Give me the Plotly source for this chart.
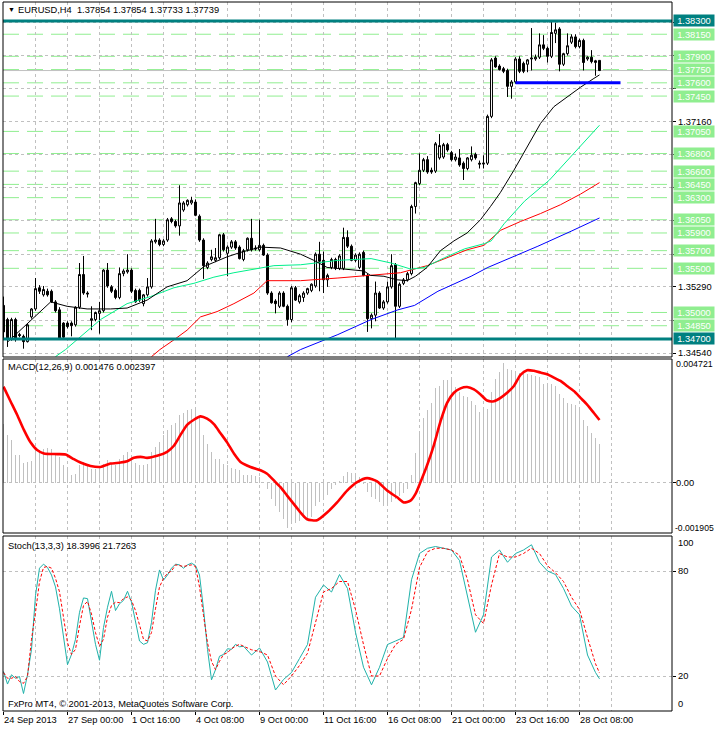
import plotly.graph_objects as go

# ------------------------------------------------------------------ data
bars = list(range(150))
opens = [1.3508,1.3492,1.3470,1.3492,1.3475,1.3473,1.3467,1.3495,1.3504,1.3528,
         1.3520,1.3524,1.3524,1.3512,1.3503,1.3488,1.3488,1.3488,1.3486,1.3506,
         1.3543,1.3522,1.3491,1.3492,1.3499,1.3502,1.3548,1.3529,1.3525,1.3517,
         1.3544,1.3546,1.3548,1.3525,1.3525,1.3510,1.3520,1.3529,1.3580,1.3582,
         1.3577,1.3582,1.3606,1.3603,1.3598,1.3616,1.3622,1.3624,1.3625,1.3609,
         1.3582,1.3551,1.3560,1.3559,1.3562,1.3588,1.3567,1.3574,1.3580,1.3574,
         1.3560,1.3571,1.3584,1.3573,1.3571,1.3576,1.3565,1.3522,1.3513,1.3507,
         1.3522,1.3507,1.3492,1.3528,1.3512,1.3517,1.3522,1.3525,1.3530,1.3566,
         1.3559,1.3537,1.3551,1.3560,1.3550,1.3550,1.3585,1.3575,1.3559,1.3551,
         1.3568,1.3542,1.3493,1.3497,1.3522,1.3505,1.3512,1.3529,1.3554,1.3507,
         1.3533,1.3537,1.3544,1.3620,1.3646,1.3661,1.3673,1.3661,1.3660,1.3675,
         1.3676,1.3690,1.3681,1.3673,1.3675,1.3669,1.3663,1.3673,1.3679,1.3669,
         1.3668,1.3669,1.3722,1.3788,1.3779,1.3776,1.3774,1.3756,1.3761,1.3787,
         1.3782,1.3781,1.3787,1.3787,1.3789,1.3803,1.3799,1.3790,1.3816,1.3821,
         1.3781,1.3793,1.3806,1.3812,1.3801,1.3808,1.3787,1.3789,1.3783,1.37854]
highs = [1.3518,1.3494,1.3494,1.3494,1.3477,1.3475,1.3487,1.3505,1.3539,1.3531,
         1.3530,1.3527,1.3526,1.3514,1.3506,1.3489,1.3490,1.3490,1.3507,1.3556,
         1.3564,1.3524,1.3507,1.3501,1.3512,1.3549,1.3556,1.3531,1.3527,1.3551,
         1.3549,1.3566,1.3550,1.3527,1.3527,1.3521,1.3539,1.3583,1.3606,1.3584,
         1.3583,1.3607,1.3608,1.3605,1.3644,1.3626,1.3628,1.3631,1.3628,1.3611,
         1.3584,1.3558,1.3571,1.3573,1.3589,1.3590,1.3576,1.3582,1.3582,1.3576,
         1.3572,1.3585,1.3606,1.3576,1.3605,1.3578,1.3567,1.3524,1.3515,1.3524,
         1.3524,1.3509,1.3530,1.3530,1.3521,1.3524,1.3528,1.3533,1.3568,1.3580,
         1.3569,1.3544,1.3562,1.3562,1.3566,1.3596,1.3593,1.3577,1.3567,1.3568,
         1.3570,1.3544,1.3499,1.3535,1.3524,1.3514,1.3535,1.3566,1.3556,1.3534,
         1.3539,1.3546,1.3622,1.3648,1.3680,1.3675,1.3677,1.3664,1.3693,1.3702,
         1.3692,1.3692,1.3683,1.3680,1.3685,1.3671,1.3676,1.3688,1.3681,1.3672,
         1.3678,1.3724,1.3788,1.3790,1.3781,1.3778,1.3776,1.3763,1.3789,1.3790,
         1.3784,1.3787,1.3822,1.3792,1.3816,1.3814,1.3801,1.3830,1.3828,1.3823,
         1.3794,1.3816,1.3815,1.3815,1.3810,1.3810,1.3790,1.3797,1.3786,1.37854]
lows = [1.3469,1.3461,1.3468,1.3467,1.3472,1.3459,1.3466,1.3493,1.3502,1.3521,
        1.3518,1.3518,1.3511,1.3500,1.3469,1.3470,1.3482,1.3473,1.3484,1.3504,
        1.3520,1.3517,1.3480,1.3490,1.3476,1.3500,1.3528,1.3522,1.3515,1.3515,
        1.3541,1.3544,1.3522,1.3511,1.3512,1.3507,1.3518,1.3527,1.3578,1.3575,
        1.3575,1.3580,1.3601,1.3596,1.3587,1.3614,1.3620,1.3622,1.3609,1.3580,
        1.3538,1.3549,1.3558,1.3557,1.3560,1.3569,1.3541,1.3572,1.3571,1.3560,
        1.3558,1.3569,1.3569,1.3570,1.3569,1.3564,1.3520,1.3510,1.3499,1.3505,
        1.3506,1.3485,1.3489,1.3513,1.3510,1.3512,1.3520,1.3523,1.3528,1.3524,
        1.3522,1.3529,1.3549,1.3548,1.3548,1.3548,1.3573,1.3558,1.3557,1.3549,
        1.3541,1.3478,1.3482,1.3490,1.3504,1.3503,1.3510,1.3527,1.3471,1.3505,
        1.3531,1.3535,1.3542,1.3612,1.3644,1.3659,1.3657,1.3657,1.3658,1.3673,
        1.3674,1.3682,1.3671,1.3671,1.3665,1.3650,1.3661,1.3671,1.3673,1.3663,
        1.3663,1.3667,1.3720,1.3777,1.3774,1.3771,1.3744,1.3742,1.3759,1.3771,
        1.3771,1.3772,1.3774,1.3785,1.3787,1.3797,1.3783,1.3788,1.3805,1.3773,
        1.3779,1.3791,1.3804,1.3799,1.3799,1.3774,1.3785,1.3782,1.3768,1.37733]
closes = [1.3478,1.3471,1.3492,1.3470,1.3474,1.3467,1.3486,1.3504,1.3527,1.3524,
          1.3526,1.3520,1.3512,1.3502,1.3471,1.3472,1.3484,1.3485,1.3506,1.3543,
          1.3522,1.3521,1.3493,1.3500,1.3502,1.3548,1.3530,1.3524,1.3517,1.3544,
          1.3547,1.3548,1.3524,1.3512,1.3514,1.3520,1.3529,1.3581,1.3582,1.3577,
          1.3581,1.3605,1.3603,1.3598,1.3624,1.3624,1.3627,1.3627,1.3610,1.3582,
          1.3553,1.3556,1.3563,1.3562,1.3588,1.3571,1.3574,1.3580,1.3573,1.3561,
          1.3570,1.3584,1.3571,1.3572,1.3576,1.3565,1.3522,1.3511,1.3510,1.3522,
          1.3507,1.3492,1.3528,1.3514,1.3519,1.3522,1.3527,1.3532,1.3566,1.3558,
          1.3537,1.3542,1.3560,1.3550,1.3564,1.3585,1.3575,1.3559,1.3565,1.3566,
          1.3542,1.3493,1.3497,1.3522,1.3505,1.3512,1.3529,1.3553,1.3507,1.3532,
          1.3537,1.3544,1.3620,1.3647,1.3661,1.3673,1.3659,1.3659,1.3691,1.3689,
          1.3690,1.3684,1.3673,1.3676,1.3667,1.3663,1.3675,1.3678,1.3675,1.3668,
          1.3669,1.3722,1.3786,1.3778,1.3775,1.3773,1.3756,1.3761,1.3787,1.3773,
          1.3773,1.3786,1.3788,1.3789,1.3803,1.3799,1.3790,1.3817,1.3820,1.3781,
          1.3793,1.3802,1.3812,1.3801,1.3808,1.3783,1.3789,1.3784,1.3785,1.37739]

# moving averages (bar position, price)
ma_black_x = [0.9,11.8,15.9,20.9,26.75,30.9,35.9,40.9,45.9,50.1,55.9,59.25,64.25,69.25,74.25,77.6,80.9,
              85.9,90.1,91.75,95.1,98.4,100.9,103,105.9,109.25,112.6,115.9,119.25,121.75,124.25,127.6,
              131,134.25,137.6,140.9,144.25,147.6,149]
ma_black_y = [1.3466,1.3512,1.3507,1.3504,1.3504,1.3505,1.3514,1.3529,1.3536,1.3552,1.3563,1.3568,1.3574,
              1.3573,1.3566,1.3559,1.3551,1.3549,1.3547,1.3542,1.3541,1.3537,1.3536,1.3541,1.3551,1.3570,
              1.3581,1.3590,1.3605,1.3620,1.3636,1.3661,1.3688,1.3714,1.3733,1.3744,1.3755,1.3765,1.3769]
ma_green_x = [13,15.5,24.25,30.9,36.75,42.6,47.6,52.6,57.6,62.6,67.6,74.25,83.6,91.9,96.9,101.9,105.25,
              110.25,115.25,120.25,121.9,125.25,130.25,136.5,149]
ma_green_y = [1.3450,1.3458,1.3492,1.3510,1.3518,1.3528,1.3533,1.3540,1.3545,1.3549,1.3553,1.3554,1.3559,
              1.3561,1.3556,1.3549,1.3551,1.3562,1.3572,1.3578,1.3581,1.3601,1.3626,1.3650,1.3712]
ma_red_x = [37,39.1,42.6,45.9,49.25,53.4,57.6,62.6,65.9,70.9,74.25,83.6,91.9,99.25,105.9,110.9,115.9,
            120.1,124.25,129.25,134.25,139.25,144.25,149]
ma_red_y = [1.3450,1.3458,1.3469,1.3480,1.3495,1.3501,1.3510,1.3522,1.3536,1.3536,1.3536,1.3539,1.3542,
            1.3545,1.3553,1.3562,1.3571,1.3576,1.3593,1.3603,1.3612,1.3622,1.3634,1.3647]
ma_blue_x = [71,74.25,83.6,91.9,98.6,102.75,108.6,116.9,121.1,125.25,133.6,141.9,149]
ma_blue_y = [1.3450,1.3458,1.3475,1.3492,1.3503,1.3508,1.3524,1.3541,1.3551,1.3559,1.3575,1.3592,1.3607]

# horizontal levels
green_levels = [1.3815,1.3790,1.3775,1.3760,1.3745,1.3705,1.3680,1.3660,1.3645,1.3630,
                1.3605,1.3590,1.3570,1.3550,1.3500,1.3485]
green_labels = ["1.38150","1.37900","1.37750","1.37600","1.37450","1.37050","1.36800","1.36600",
                "1.36450","1.36300","1.36050","1.35900","1.35700","1.35500","1.35000","1.34850"]
teal_levels = [1.3830, 1.3470]
teal_labels = ["1.38300", "1.34700"]
blue_level = 1.3760
blue_from_bar, blue_to_bar = 128, 154.25
bid_price = 1.37739
price_grid = [1.34540,1.34914,1.35290,1.35662,1.36036,1.36410,1.36784,1.37160,1.37532,1.37906,1.38280]
price_tick_labels = {1.37160: "1.37160", 1.35290: "1.35290", 1.34540: "1.34540"}

# MACD
macd_main = [0.002253,0.001830,0.001637,0.001059,0.001059,0.000777,0.000803,0.000828,0.001188,0.001252,
             0.001290,0.001316,0.001290,0.001059,0.000995,0.000700,0.000482,0.000315,0.000341,0.000700,
             0.000803,0.000674,0.000546,0.000546,0.000546,0.000738,0.000867,0.000777,0.000700,0.000931,
             0.001059,0.001188,0.000995,0.000777,0.000674,0.000674,0.000738,0.001188,0.001380,0.001547,
             0.001830,0.002022,0.002215,0.002279,0.002600,0.002664,0.002793,0.002831,0.002831,0.002471,
             0.001830,0.001470,0.001188,0.000905,0.000905,0.000738,0.000674,0.000572,0.000546,0.000482,
             0.000315,0.000315,0.000289,0.000263,0.000225,0.000010,-0.000225,-0.000610,-0.000867,-0.001124,
             -0.001355,-0.001700,-0.001573,-0.001509,-0.001445,-0.001316,-0.001380,-0.001278,-0.000867,-0.000738,
             -0.000610,-0.000456,-0.000225,-0.000071,0.000058,0.000263,0.000417,0.000392,0.000392,0.000225,
             -0.000032,-0.000353,-0.000546,-0.000610,-0.000738,-0.000867,-0.000892,-0.000738,-0.000610,-0.000482,
             -0.000379,-0.000225,0.000289,0.001124,0.001855,0.002472,0.002793,0.003049,0.003627,0.003692,
             0.003910,0.003910,0.003910,0.003653,0.003473,0.003306,0.003268,0.003114,0.002985,0.002703,
             0.002857,0.002831,0.003473,0.003948,0.004244,0.004550,0.004334,0.004295,0.004244,0.004205,
             0.004141,0.004167,0.004115,0.004077,0.004038,0.003756,0.003730,0.003756,0.003692,0.003396,
             0.003242,0.003049,0.003011,0.002960,0.002831,0.002408,0.002151,0.001894,0.001727,0.001476]
macd_sig_x = [0,1.75,3.4,5.1,6.75,8.4,10.1,13.4,15.5,17.6,19.25,21.75,24.25,26.75,29.25,30.9,32.6,34.25,
              35.9,38.4,40.9,42.6,44.25,45.9,47.6,49.25,50.9,52.6,54.25,55.9,57.6,59.25,61.75,64.25,65.9,
              67.6,69.25,70.9,72.6,74.25,75.9,78.4,80.9,83.4,85.9,88.4,90.9,93.4,95.9,98.4,100.1,101.75,
              103,104.25,105.9,107.6,109.25,110.9,112.6,114.25,115.9,117.6,119.25,120.9,122.6,124.25,
              125.9,127.6,129.25,130.9,132.6,134.25,135.9,137.6,139.25,140.9,142.6,144.25,145.9,147.6,149]
macd_sig_y = [0.003667,0.003114,0.002600,0.002022,0.001547,0.001252,0.001123,0.001098,0.001085,0.000905,
              0.000777,0.000648,0.000610,0.000738,0.000777,0.000828,0.000957,0.000995,0.000957,0.001034,
              0.001188,0.001419,0.001830,0.002215,0.002408,0.002536,0.002446,0.002241,0.001894,0.001547,
              0.001123,0.000803,0.000610,0.000482,0.000353,0.000096,-0.000161,-0.000482,-0.000803,-0.001124,
              -0.001381,-0.001419,-0.001124,-0.000739,-0.000289,0.000032,0.000186,0.000058,-0.000289,-0.000546,
              -0.000739,-0.000675,-0.000417,0.000032,0.000674,0.001444,0.002343,0.003049,0.003435,0.003602,
              0.003653,0.003563,0.003370,0.003139,0.003114,0.003242,0.003435,0.003692,0.004116,0.004295,
              0.004270,0.004206,0.004141,0.004013,0.003885,0.003692,0.003499,0.003242,0.002985,0.002664,0.002397]

# Stochastic
stoch_main_x = list(range(60)) + [60,62,64,66,68,70,72,74,76,78,80,82,84,86,88,90,92,94,96,98,100,102,104,
                                  106,108,110,112,114,116,118,120,122,124,126,128,130,132,134,136,138,140,
                                  142,144,146,148,149]
stoch_main_y = [22.6,15.4,20.7,18.7,19.7,10.0,20.7,35.2,66.1,81.6,83.9,82.0,77.7,70.9,58.4,41.0,26.5,32.3,
                41.0,56.4,64.6,64.2,50.6,38.1,29.0,47.7,59.3,68.4,57.4,61.3,63.2,68.4,62.2,51.6,40.0,38.1,
                39.0,50.6,69.0,80.6,74.8,77.7,81.6,83.9,83.5,81.6,83.5,84.5,83.1,77.7,58.4,35.2,17.8,23.6,
                31.3,32.3,35.6,35.2,38.1,36.7,
                37,32,36,28,12,18,22,30,38,65,72,68,78,70,45,25,15,25,38,40,42,75,90,93,94,93,92,86,65,45,
                55,88,92,85,90,92,95,85,80,78,70,60,55,32,22,18.3996]
stoch_sig_x = stoch_main_x
stoch_sig_y = [22.0,18.7,18.7,19.7,16.8,15.8,19.7,41.0,56.4,73.8,82.0,82.6,81.6,75.8,68.1,53.6,39.0,32.3,
               35.2,48.7,60.3,62.6,55.4,44.8,37.0,41.0,53.6,60.3,62.2,61.9,64.2,65.2,63.2,57.4,48.7,41.0,
               40.0,44.8,58.4,70.9,75.8,78.7,80.0,83.5,83.1,82.6,83.1,83.5,82.6,70.9,54.6,39.0,28.4,23.6,
               28.4,32.3,33.3,35.6,37.0,38.1,
               37,35,34,32,20,15,20,26,33,50,68,70,74,74,58,38,20,20,30,38,41,58,82,91,93,93,92,89,75,55,
               50,72,90,88,88,90,93,90,83,79,74,65,58,42,27,21.7263]

date_bars = [0,16,32,48,64,80,96,112,128,144]
date_labels = ["24 Sep 2013","27 Sep 00:00","1 Oct 16:00","4 Oct 08:00","9 Oct 00:00",
               "11 Oct 16:00","16 Oct 08:00","21 Oct 00:00","23 Oct 16:00","28 Oct 08:00"]

# ------------------------------------------------------------------ layout helpers
W, H = 715, 729
ML, MR, MT, MB = 3, 43, 2, 18
PH = H - MT - MB
def py(y):
    return (H - MB - y) / PH

FONT = "Liberation Sans"
FS = 9.3
GRID = "#c0c0c0"
GREEN = "#90ee90"
TEAL = "#008080"

fig = go.Figure()

fig.add_trace(go.Candlestick(
    x=bars, open=opens, high=highs, low=lows, close=closes,
    increasing=dict(line=dict(color="black", width=1), fillcolor="white"),
    decreasing=dict(line=dict(color="black", width=1), fillcolor="black"),
    whiskerwidth=0, xaxis="x", yaxis="y", hoverinfo="skip", showlegend=False))

for xs, ys, col in [(ma_blue_x, ma_blue_y, "#0000ff"), (ma_red_x, ma_red_y, "#ff0000"),
                    (ma_green_x, ma_green_y, "#00f08c"), (ma_black_x, ma_black_y, "black")]:
    fig.add_trace(go.Scatter(x=xs, y=ys, mode="lines", line=dict(color=col, width=1),
                             xaxis="x", yaxis="y", hoverinfo="skip", showlegend=False))

fig.add_trace(go.Bar(x=bars, y=macd_main, width=0.25, marker=dict(color="#c0c0c0", line=dict(width=0)),
                     xaxis="x", yaxis="y2", hoverinfo="skip", showlegend=False))
fig.add_trace(go.Scatter(x=macd_sig_x, y=macd_sig_y, mode="lines", line=dict(color="red", width=2.6, shape="spline", smoothing=0.6),
                         xaxis="x", yaxis="y2", hoverinfo="skip", showlegend=False))

fig.add_trace(go.Scatter(x=stoch_main_x, y=stoch_main_y, mode="lines", line=dict(color="#20b2aa", width=1),
                         xaxis="x", yaxis="y3", hoverinfo="skip", showlegend=False))
fig.add_trace(go.Scatter(x=stoch_sig_x, y=stoch_sig_y, mode="lines", line=dict(color="red", width=1, dash="3px,2px"),
                         xaxis="x", yaxis="y3", hoverinfo="skip", showlegend=False))

shapes = []
for lv in green_levels:
    shapes.append(dict(type="line", xref="paper", x0=0, x1=1, yref="y", y0=lv, y1=lv,
                       line=dict(color=GREEN, width=1, dash="16px,8px"), layer="between"))
shapes.append(dict(type="line", xref="paper", x0=0, x1=1, yref="y", y0=bid_price, y1=bid_price,
                   line=dict(color="#c0c0c0", width=1), layer="between"))
for lv in teal_levels:
    shapes.append(dict(type="line", xref="paper", x0=0, x1=1, yref="y", y0=lv, y1=lv,
                       line=dict(color=TEAL, width=3), layer="above"))
shapes.append(dict(type="line", xref="x", x0=blue_from_bar, x1=blue_to_bar, yref="y", y0=blue_level, y1=blue_level,
                   line=dict(color="#0000ff", width=3), layer="above"))
# panel frames
for y0, y1 in [(357, 2), (533, 359), (711, 536)]:
    shapes.append(dict(type="rect", xref="paper", yref="paper", x0=0, x1=1, y0=py(y0), y1=py(y1),
                       line=dict(color="black", width=1), fillcolor="rgba(0,0,0,0)", layer="above"))

ann = []
def right_label(text, y, yref, bg=None, color="black", size=FS, shift=5):
    d = dict(x=1, xref="paper", xanchor="left", xshift=shift, y=y, yref=yref, yanchor="middle",
             text=text, showarrow=False, font=dict(family=FONT, size=size, color=color),
             align="left", borderpad=0)
    if bg:
        d.update(bgcolor=bg, width=40, height=11, align="center", xshift=1)
    return d

for lv, t in zip(green_levels, green_labels):
    ann.append(right_label(t, lv, "y", GREEN, "white"))
for lv, t in zip(teal_levels, teal_labels):
    ann.append(right_label(t, lv, "y", TEAL, "white"))
for lv, t in price_tick_labels.items():
    ann.append(right_label(t, lv, "y"))
ann.append(right_label("0.004721", py(364), "paper", size=8.8, shift=3))
ann.append(right_label("0.00", 0, "y2", shift=3))
ann.append(right_label("-0.001905", py(528), "paper", size=8.6, shift=2))
ann.append(right_label("100", py(543), "paper"))
ann.append(right_label("80", 80, "y3"))
ann.append(right_label("20", 20, "y3"))
ann.append(right_label("0", py(704), "paper"))

def left_text(text, ypix, x=7, size=FS):
    return dict(x=(x - ML) / (W - ML - MR), xref="paper", xanchor="left", y=py(ypix), yref="paper",
                yanchor="middle", text=text, showarrow=False, font=dict(family=FONT, size=size, color="black"))

ann.append(left_text("▼", 10, x=6, size=7))
ann.append(left_text("EURUSD,H4  1.37854 1.37854 1.37733 1.37739", 10, x=16))
ann.append(left_text("MACD(12,26,9) 0.001476 0.002397", 367, x=6))
ann.append(left_text("Stoch(13,3,3) 18.3996 21.7263", 546, x=6))
ann.append(left_text("FxPro MT4, © 2001-2013, MetaQuotes Software Corp.", 704, x=6))

for b, t in zip(date_bars, date_labels):
    ann.append(dict(x=b, xref="x", xanchor="left", xshift=-2, y=py(720), yref="paper", yanchor="middle",
                    text=t, showarrow=False, font=dict(family=FONT, size=FS, color="black")))

axis_common = dict(showline=False, zeroline=False, showticklabels=False)
fig.update_layout(
    width=W, height=H, margin=dict(l=ML, r=MR, t=MT, b=MB),
    paper_bgcolor="white", plot_bgcolor="white", showlegend=False, hovermode=False,
    bargap=0,
    xaxis=dict(domain=[0, 1], range=[-0.125, 167.125], anchor="y3", rangeslider=dict(visible=False),
               tickmode="array", tickvals=date_bars, ticks="outside", ticklen=3, tickcolor="black",
               showgrid=True, gridcolor=GRID, griddash="3px,3px", gridwidth=1,
               minor=dict(tickmode="array", tickvals=[8 + 16 * k for k in range(11)], showgrid=True,
                          gridcolor=GRID, griddash="3px,3px", ticks=""),
               **axis_common),
    yaxis=dict(domain=[py(357), py(2)], range=[1.34496, 1.38515], side="right", anchor="x",
               tickmode="array", tickvals=price_grid, ticks="outside", ticklen=3, tickcolor="black",
               showgrid=True, gridcolor=GRID, griddash="3px,3px", **axis_common),
    yaxis2=dict(domain=[py(533), py(359)], range=[-0.001905, 0.004721], side="right", anchor="x",
                tickmode="array", tickvals=[0], ticks="outside", ticklen=3, tickcolor="black",
                showgrid=True, gridcolor=GRID, griddash="3px,3px", **axis_common),
    yaxis3=dict(domain=[0, py(536)], range=[0, 100], side="right", anchor="x",
                tickmode="array", tickvals=[20, 80], ticks="outside", ticklen=3, tickcolor="black",
                showgrid=True, gridcolor=GRID, griddash="3px,3px", **axis_common),
    shapes=shapes, annotations=ann,
)

fig.write_html("out.html", config={"displayModeBar": False},
               post_script="document.body.style.margin='0px';document.body.style.padding='0px';"
                           "document.body.style.overflow='hidden';")
